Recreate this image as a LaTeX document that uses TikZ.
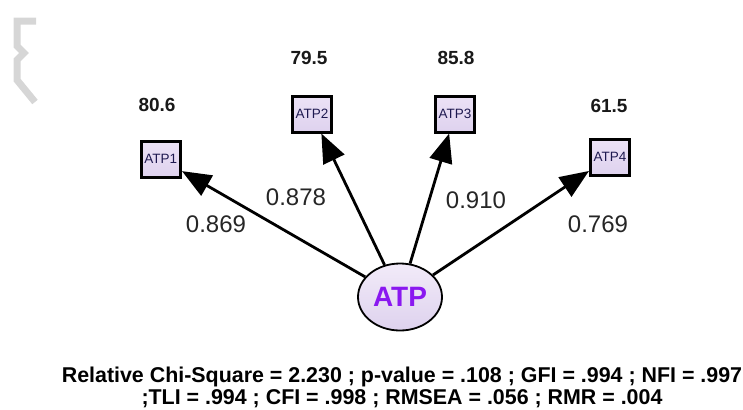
\documentclass[tikz,border=0pt]{standalone}
\usepackage{fontspec}
\setmainfont{Liberation Sans}
\usetikzlibrary{arrows.meta,shapes.geometric}
\definecolor{boxfillA}{RGB}{236,226,246}
\definecolor{boxfillB}{RGB}{222,210,238}
\definecolor{latentpurple}{RGB}{138,24,240}
\definecolor{labelnavy}{RGB}{30,25,80}
\definecolor{bracketgray}{RGB}{214,214,214}
\tikzset{
  indicator/.style={draw=black, line width=3bp, minimum width=39bp, minimum height=36bp,
    inner sep=0pt, top color=boxfillA, bottom color=boxfillB,
    font=\fontsize{13.5bp}{15bp}\selectfont, text=labelnavy},
  latent/.style={ellipse, draw=black, line width=1.8bp, minimum width=84bp, minimum height=67bp,
    inner sep=0pt, top color=boxfillA!70!white, bottom color=boxfillB,
    font=\bfseries\fontsize{28bp}{30bp}\selectfont, text=latentpurple},
  loading/.style={draw=black, line width=2.8bp, -{Triangle[length=29bp,width=23bp]}},
  rsq/.style={font=\bfseries\fontsize{19bp}{21bp}\selectfont, text=black!90},
  coef/.style={font=\fontsize{24bp}{26bp}\selectfont, text=black!85},
  fitline/.style={anchor=base, font=\bfseries\fontsize{21.4bp}{24bp}\selectfont},
}
\begin{document}
\begin{tikzpicture}[x=1bp,y=-1bp]
\useasboundingbox (0,0) rectangle (743,409);
% light bracket mark at the left margin
\draw[bracketgray, line width=7bp, line join=miter]
  (36,21) -- (17,21) -- (17,46) -- (24,53) -- (17,60) -- (17,80) -- (35,102);

% latent factor and its indicators
\node[latent] (atp) at (400,297) {ATP};
\node[indicator] (a1) at (161,159) {\kern-0.5bp ATP1};
\node[indicator] (a2) at (312,114) {ATP2};
\node[indicator] (a3) at (455,114) {ATP3};
\node[indicator] (a4) at (610,157) {ATP4};

% squared multiple correlations
\node[rsq] (r1) at (157,105) {80.6};
\node[rsq] (r2) at (309,58) {79.5};
\node[rsq] (r3) at (456,58) {85.8};
\node[rsq] (r4) at (609,106) {61.5};

% standardized loadings
\draw[loading] (atp) -- (a1);
\draw[loading] (atp) -- (a2);
\draw[loading] (atp) -- (a3);
\draw[loading] (atp) -- (a4);
\node[coef] (l1) at (216,224) {0.869};
\node[coef] (l2) at (296,197) {0.878};
\node[coef] (l3) at (476,200) {0.910};
\node[coef] (l4) at (598,224) {0.769};

% model fit indices
\node[fitline] (fit1) at (402,382) {Relative Chi-Square = 2.230 ; p-value = .108 ; GFI = .994 ; NFI = .997};
\node[fitline] (fit2) at (402,404) {;TLI = .994 ; CFI = .998 ; RMSEA = .056 ; RMR = .004};
\end{tikzpicture}
\end{document}
